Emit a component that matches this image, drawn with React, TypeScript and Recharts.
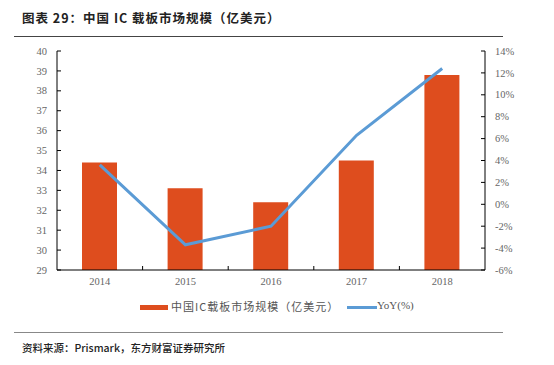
import React from "react";
import {
  ComposedChart,
  Bar,
  Line,
  XAxis,
  YAxis,
} from "recharts";

const years = ["2014", "2015", "2016", "2017", "2018"];
const marketSize = [34.4, 33.1, 32.4, 34.5, 38.8];
const yoy = [3.6, -3.7, -2.0, 6.3, 12.4];
const leftTicks = [29, 30, 31, 32, 33, 34, 35, 36, 37, 38, 39, 40];
const rightTicks = [-6, -4, -2, 0, 2, 4, 6, 8, 10, 12, 14];

const BAR_COLOR = "#DE4D1E";
const LINE_COLOR = "#5B9BD5";
const LABEL_COLOR = "#666666";
const NUM_FONT = "'Liberation Serif', 'DejaVu Serif', serif";
const CJK_FONT = "'Noto Sans CJK SC', 'Noto Sans', sans-serif";

const data = years.map((y, i) => ({ year: y, size: marketSize[i], yoy: yoy[i] }));

// plot area: x 57..485, y 51..270
const BAND = (485 - 57) / years.length;

const LeftTick = (props: any) => {
  const { x, y, payload } = props;
  const ax = x + 10;
  return (
    <g>
      <line x1={ax} x2={ax + 4} y1={y} y2={y} stroke="#000" strokeWidth={1} />
      <text x={x} y={y} dy="0.35em" textAnchor="end" fill={LABEL_COLOR} fontSize={10.5} fontFamily={NUM_FONT}>
        {payload.value}
      </text>
    </g>
  );
};

const RightTick = (props: any) => {
  const { x, y, payload } = props;
  const ax = x - 10;
  return (
    <g>
      <line x1={ax} x2={ax - 4} y1={y} y2={y} stroke="#000" strokeWidth={1} />
      <text x={x} y={y} dy="0.35em" textAnchor="start" fill={LABEL_COLOR} fontSize={10.5} fontFamily={NUM_FONT}>
        {payload.value}%
      </text>
    </g>
  );
};

const BottomTick = (props: any) => {
  const { x, y, payload, index } = props;
  const ay = y - 8;
  return (
    <g>
      {index > 0 && (
        <line x1={x - BAND / 2} x2={x - BAND / 2} y1={ay} y2={ay - 4} stroke="#000" strokeWidth={1} />
      )}
      <text x={x} y={y} dy="0.71em" textAnchor="middle" fill={LABEL_COLOR} fontSize={10.5} fontFamily={NUM_FONT}>
        {payload.value}
      </text>
    </g>
  );
};

export default function App() {
  return (
    <div style={{ position: "absolute", left: 0, top: 0, width: 554, height: 365, background: "#fff", overflow: "hidden" }}>
      {/* title */}
      <div
        style={{
          position: "absolute",
          left: 22,
          top: 8,
          fontFamily: CJK_FONT,
          fontWeight: 700,
          fontSize: 12.5,
          letterSpacing: 1,
          color: "#222",
          whiteSpace: "nowrap",
        }}
      >
        图表 29：中国 IC 载板市场规模（亿美元）
      </div>
      <div style={{ position: "absolute", left: 14, top: 36, width: 489, height: 1, background: "#444" }} />

      <div style={{ position: "absolute", left: 0, top: 0 }}>
        <ComposedChart
          width={554}
          height={365}
          data={data}
          margin={{ top: 51, right: 19, bottom: 65, left: 17 }}
        >
          <XAxis
            dataKey="year"
            height={30}
            tickSize={0}
            tickMargin={8}
            stroke="#000"
            tick={<BottomTick />}
          />
          <YAxis
            yAxisId="left"
            width={40}
            domain={[29, 40]}
            ticks={leftTicks}
            interval={0}
            tickSize={0}
            tickMargin={10}
            stroke="#000"
            allowDataOverflow
            tick={<LeftTick />}
          />
          <YAxis
            yAxisId="right"
            orientation="right"
            width={50}
            domain={[-6, 14]}
            ticks={rightTicks}
            interval={0}
            tickSize={0}
            tickMargin={10}
            stroke="#000"
            tick={<RightTick />}
          />
          <Bar yAxisId="left" dataKey="size" fill={BAR_COLOR} barSize={35} isAnimationActive={false} />
          <Line
            yAxisId="right"
            dataKey="yoy"
            stroke={LINE_COLOR}
            strokeWidth={3}
            dot={false}
            type="linear"
            isAnimationActive={false}
          />
        </ComposedChart>
      </div>

      {/* legend */}
      <div style={{ position: "absolute", left: 140, top: 305, width: 28, height: 5, background: BAR_COLOR }} />
      <div
        style={{
          position: "absolute",
          left: 171,
          top: 298,
          fontFamily: CJK_FONT,
          fontSize: 11,
          color: "#555",
          whiteSpace: "nowrap",
          letterSpacing: 1,
        }}
      >
        中国IC载板市场规模（亿美元）
      </div>
      <div style={{ position: "absolute", left: 347, top: 306, width: 30, height: 2.5, background: LINE_COLOR }} />
      <div
        style={{
          position: "absolute",
          left: 377,
          top: 299,
          fontFamily: NUM_FONT,
          fontSize: 11,
          color: "#555",
          whiteSpace: "nowrap",
        }}
      >
        YoY(%)
      </div>

      {/* source */}
      <div style={{ position: "absolute", left: 14, top: 332, width: 489, height: 1, background: "#888" }} />
      <div
        style={{
          position: "absolute",
          left: 22,
          top: 340,
          fontFamily: CJK_FONT,
          fontSize: 10.5,
          fontWeight: 500,
          color: "#222",
          whiteSpace: "nowrap",
        }}
      >
        资料来源：Prismark，东方财富证券研究所
      </div>
    </div>
  );
}
